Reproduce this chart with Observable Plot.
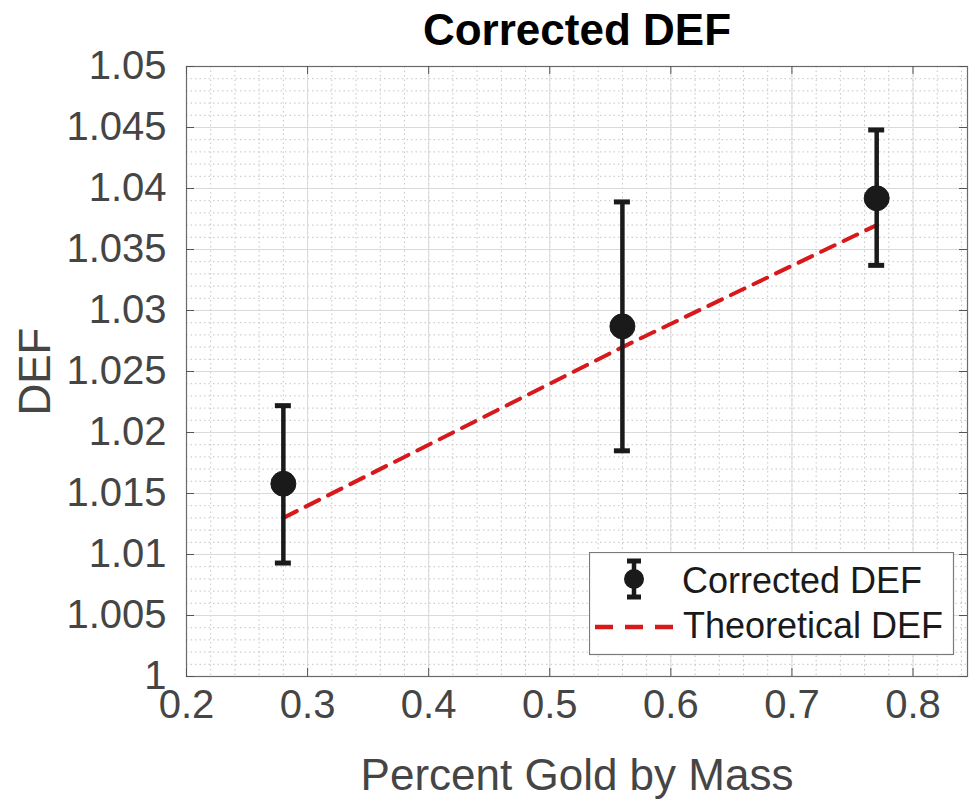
<!DOCTYPE html>
<html>
<head>
<meta charset="utf-8">
<script src="https://cdn.jsdelivr.net/npm/d3@7"></script>
<script src="https://cdn.jsdelivr.net/npm/@observablehq/plot@0.6"></script>
<style>
  html, body { margin: 0; padding: 0; background: #fff; }
  #wrap { position: relative; width: 969px; height: 804px; font-family: "Liberation Sans", Arial, sans-serif; }
  #legend { position: absolute; left: 589px; top: 552px; }
</style>
</head>
<body>
<div id="wrap"></div>
<script>
// ---- data ----
const goldFraction = [0.28, 0.56, 0.77];
const correctedDEF = [1.0158, 1.0287, 1.0392];
const errorLow = [1.0093, 1.0185, 1.0337];
const errorHigh = [1.0222, 1.0389, 1.0448];
const theoreticalDEF = [1.013, 1.027, 1.037];
const xTicks = [0.2, 0.3, 0.4, 0.5, 0.6, 0.7, 0.8];
const yTicks = [1, 1.005, 1.01, 1.015, 1.02, 1.025, 1.03, 1.035, 1.04, 1.045, 1.05];
const yTickLabels = ["1", "1.005", "1.01", "1.015", "1.02", "1.025", "1.03", "1.035", "1.04", "1.045", "1.05"];

const xMinor = d3.range(0, 33).map(i => +(0.2 + i * 0.02).toFixed(3));
const yMinor = d3.range(0, 51).map(i => +(1 + i * 0.001).toFixed(4));

const measured = goldFraction.map((x, i) => ({x, y: correctedDEF[i], lo: errorLow[i], hi: errorHigh[i]}));
const theory = goldFraction.map((x, i) => ({x, y: theoreticalDEF[i]}));

const ink = "#1a1a1a";
const axisColor = "#454545";
const red = "#d7191c";

const chart = Plot.plot({
  width: 969,
  height: 804,
  marginLeft: 186,
  marginRight: 2,
  marginTop: 66,
  marginBottom: 128,
  style: {fontFamily: "Liberation Sans, Arial, sans-serif", background: "#fff"},
  x: {domain: [0.2, 0.845]},
  y: {domain: [1, 1.05]},
  marks: [
    Plot.gridX(xMinor, {stroke: "#c4c4c4", strokeOpacity: 1, strokeDasharray: "1.5,3"}),
    Plot.gridY(yMinor, {stroke: "#c4c4c4", strokeOpacity: 1, strokeDasharray: "1.5,3"}),
    Plot.gridX(xTicks, {stroke: "#dadada", strokeOpacity: 1}),
    Plot.gridY(yTicks, {stroke: "#dadada", strokeOpacity: 1}),
    Plot.frame({stroke: "#6a6a6a", strokeWidth: 1.2}),
    // inward ticks
    Plot.ruleX(xTicks, {x: d => d, y1: 1, y2: 1, insetTop: -8, stroke: "#555"}),
    Plot.ruleX(xTicks, {x: d => d, y1: 1.05, y2: 1.05, insetBottom: -8, stroke: "#555"}),
    Plot.ruleY(yTicks, {y: d => d, x1: 0.2, x2: 0.2, insetRight: -8, stroke: "#555"}),
    Plot.ruleY(yTicks, {y: d => d, x1: 0.845, x2: 0.845, insetLeft: -8, stroke: "#555"}),
    Plot.axisX({ticks: xTicks, tickFormat: d => String(d), tickSize: 0, tickPadding: 13, fontSize: 40, color: axisColor, label: null}),
    Plot.axisY({ticks: yTicks, tickFormat: (d, i) => yTickLabels[i], tickSize: 0, tickPadding: 20, fontSize: 40, color: axisColor, label: null}),
    // theoretical line
    Plot.line(theory, {x: "x", y: "y", stroke: red, strokeWidth: 4, strokeDasharray: "15,10"}),
    // error bars
    Plot.ruleX(measured, {x: "x", y1: "lo", y2: "hi", stroke: ink, strokeWidth: 4.5}),
    Plot.ruleY(measured, {y: "lo", x1: "x", x2: "x", insetLeft: -8, insetRight: -8, stroke: ink, strokeWidth: 5}),
    Plot.ruleY(measured, {y: "hi", x1: "x", x2: "x", insetLeft: -8, insetRight: -8, stroke: ink, strokeWidth: 5}),
    Plot.dot(measured, {x: "x", y: "y", r: 12.5, fill: ink, stroke: ink, strokeWidth: 1}),
    // texts
    Plot.text(["Corrected DEF"], {frameAnchor: "top", lineAnchor: "middle", dy: -36, fontSize: 44, fontWeight: "bold", fill: "#000"}),
    Plot.text(["Percent Gold by Mass"], {frameAnchor: "bottom", lineAnchor: "middle", dy: 99, fontSize: 44, fill: axisColor}),
    Plot.text(["DEF"], {frameAnchor: "left", textAnchor: "middle", lineAnchor: "middle", rotate: -90, dx: -151, fontSize: 44, fill: axisColor})
  ]
});

const wrap = document.getElementById("wrap");
wrap.appendChild(chart);

// legend
const legend = document.createElement("div");
legend.id = "legend";
legend.innerHTML = `
<svg width="366" height="104" xmlns="http://www.w3.org/2000/svg" style="font-family: 'Liberation Sans', Arial, sans-serif">
  <rect x="0.5" y="0.5" width="364" height="102" fill="#fff" stroke="#7a7a7a" stroke-width="1.2"/>
  <line x1="45" x2="45" y1="9" y2="45" stroke="${ink}" stroke-width="4.5"/>
  <line x1="38" x2="52" y1="9" y2="9" stroke="${ink}" stroke-width="5"/>
  <line x1="38" x2="52" y1="45" y2="45" stroke="${ink}" stroke-width="5"/>
  <circle cx="45" cy="27" r="10" fill="${ink}"/>
  <text x="93" y="41" font-size="36" fill="#1a1a1a">Corrected DEF</text>
  <line x1="6" x2="88" y1="75" y2="75" stroke="${red}" stroke-width="4.5" stroke-dasharray="18,12"/>
  <text x="94" y="86" font-size="36" fill="#1a1a1a">Theoretical DEF</text>
</svg>`;
wrap.appendChild(legend);
</script>
</body>
</html>
